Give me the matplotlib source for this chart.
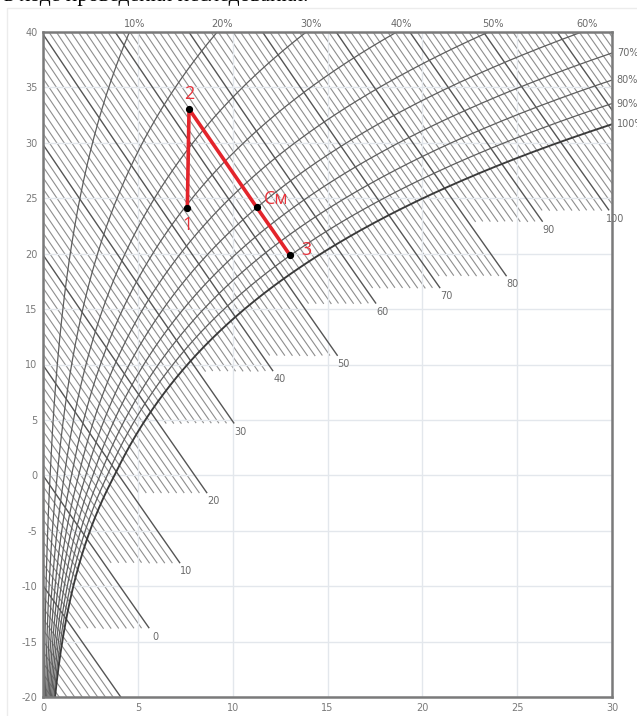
import numpy as np
import matplotlib
matplotlib.use("Agg")
import matplotlib.pyplot as plt
from matplotlib.patches import Rectangle

plt.rcParams["axes.unicode_minus"] = False

# ---------------- data ----------------
RH_LEVELS = [10, 20, 30, 40, 50, 60, 70, 80, 90, 100]          # relative humidity, %
RH_TOP = [10, 20, 30, 40, 50, 60]                               # labelled on top edge
RH_RIGHT = [70, 80, 90, 100]                                    # labelled on right edge
ENTH_LABELS = [0, 10, 20, 30, 40, 50, 60, 70, 80, 90, 100]      # kJ/kg, labelled isenthalps
ENTH_END_T = [-13.8, -7.9, -1.6, 4.7, 9.4, 10.8, 15.5, 16.9, 18.0, 22.9, 23.9]  # t where they stop
ENTH_MIN, ENTH_MAX = -20, 118                                   # hatch range (1 kJ/kg step)
PROC_NAMES = ["1", "2", "См", "3"]
PROC_D = [7.61, 7.70, 11.26, 13.02]   # g/kg
PROC_T = [24.10, 33.05, 24.20, 19.87]  # °C
X_TICKS = [0, 5, 10, 15, 20, 25, 30]
Y_TICKS = [-20, -15, -10, -5, 0, 5, 10, 15, 20, 25, 30, 35, 40]
P_ATM = 101.325
HEADER = "в ходе проведения исследования."

# ---------------- helpers ----------------
def psat(t):
    t = np.asarray(t, dtype=float)
    return np.where(t >= 0,
                    0.61094 * np.exp(17.625 * t / (t + 243.04)),
                    0.61115 * np.exp(22.452 * t / (272.55 + t)))

def d_of(phi, t):
    pv = phi / 100.0 * psat(t)
    return 622.0 * pv / (P_ATM - pv)

def t_of_i(i, d):
    return (i - 2.501 * d) / (1.005 + 0.00186 * d)

def t_at_d(phi, d_target):
    ts = np.linspace(-20, 60, 8001)
    ds = d_of(phi, ts)
    return float(np.interp(d_target, ds, ts))

# ---------------- figure ----------------
W, H, DPI = 637, 716, 100
fig = plt.figure(figsize=(W / DPI, H / DPI), dpi=DPI)
fig.patch.set_facecolor("white")
ax = fig.add_axes([43 / W, (H - 697) / H, 569 / W, 665 / H])
ax.set_xlim(0, 30)
ax.set_ylim(-20, 40)

# faint container border
fig.add_artist(Rectangle((7 / W, -0.05), 1.1, (H - 8) / H + 0.05, transform=fig.transFigure,
                         fill=False, edgecolor="#ececec", lw=1.0, zorder=0))

# header text (partly cut by top edge)
fig.text(4 / W, 1 - 1.5 / H, HEADER, family="Liberation Serif", fontsize=15.5,
         color="black", va="baseline", ha="left")

# grid
for x in X_TICKS:
    ax.axvline(x, color="#e3e7ec", lw=1.0, zorder=1.5)
for y in Y_TICKS:
    ax.axhline(y, color="#e3e7ec", lw=1.0, zorder=1.5)

dd = np.linspace(0, 30, 1200)

def end_t_for(i):
    if i % 10 == 0:
        if i in ENTH_LABELS:
            return ENTH_END_T[ENTH_LABELS.index(i)]
        return -99.0 if i < 0 else ENTH_END_T[-1]
    k = int(np.ceil(i / 10.0)) * 10
    if k <= -10:
        return -99.0
    if k in ENTH_LABELS:
        return ENTH_END_T[ENTH_LABELS.index(k)]
    return 24.5

# hatch (thin isenthalps) and main isenthalps
for i in range(ENTH_MIN, ENTH_MAX + 1):
    tt = t_of_i(i, dd)
    te = end_t_for(i)
    tt = np.where(tt >= te, tt, np.nan)
    if i % 10 == 0:
        ax.plot(dd, tt, color="#555555", lw=1.0, zorder=2.2)
    else:
        ax.plot(dd, tt, color="#8e8e8e", lw=0.8, zorder=1)

# isenthalp labels
for lab, te in zip(ENTH_LABELS, ENTH_END_T):
    d_end = (lab - 1.005 * te) / (2.501 + 0.00186 * te)
    ax.annotate(str(lab), (d_end, te), xytext=(4.5, -6), textcoords="offset points",
                ha="center", va="center", fontsize=7, color="#6a6a6a", zorder=4,
                annotation_clip=False)

# relative humidity curves
tt = np.linspace(-20, 40, 1500)
for phi in RH_LEVELS:
    d = d_of(phi, tt)
    if phi == 100:
        ax.plot(d, tt, color="#3a3a3a", lw=1.35, zorder=3)
    else:
        ax.plot(d, tt, color="#5e5e5e", lw=0.9, zorder=2.5)

# RH labels on top
for phi in RH_TOP:
    dx = float(d_of(phi, 40.0))
    ax.annotate(f"{phi}%", (dx, 40), xytext=(3.5, 6), textcoords="offset points",
                ha="center", va="center", fontsize=7, color="#6a6a6a", annotation_clip=False)
# RH labels on right
for phi in RH_RIGHT:
    ty = t_at_d(phi, 30.0)
    ax.annotate(f"{phi}%", (30, ty), xytext=(3.5, 0), textcoords="offset points",
                ha="left", va="center", fontsize=7, color="#6a6a6a", annotation_clip=False)

# process
ax.plot(PROC_D, PROC_T, color="#e3242b", lw=2.6, zorder=5, solid_capstyle="round")
ax.plot(PROC_D, PROC_T, "o", color="black", ms=4.2, zorder=6)
offsets = {"1": (0, -12, "center"), "2": (0, 11, "center"),
           "См": (5.5, 5.5, "left"), "3": (8, 4, "left")}
for name, d, t in zip(PROC_NAMES, PROC_D, PROC_T):
    ox, oy, ha = offsets[name]
    ax.annotate(name, (d, t), xytext=(ox, oy), textcoords="offset points",
                ha=ha, va="center", fontsize=13, color="#e8333b", zorder=7,
                family="Open Sans")

# axes styling
ax.set_xticks(X_TICKS)
ax.set_yticks(Y_TICKS)
ax.tick_params(length=0, labelsize=7, labelcolor="#7a7a7a", pad=4)
for s in ax.spines.values():
    s.set_color("#7a7a7a")
    s.set_linewidth(1.8)
    s.set_zorder(8)

fig.savefig("out.png", dpi=DPI)
